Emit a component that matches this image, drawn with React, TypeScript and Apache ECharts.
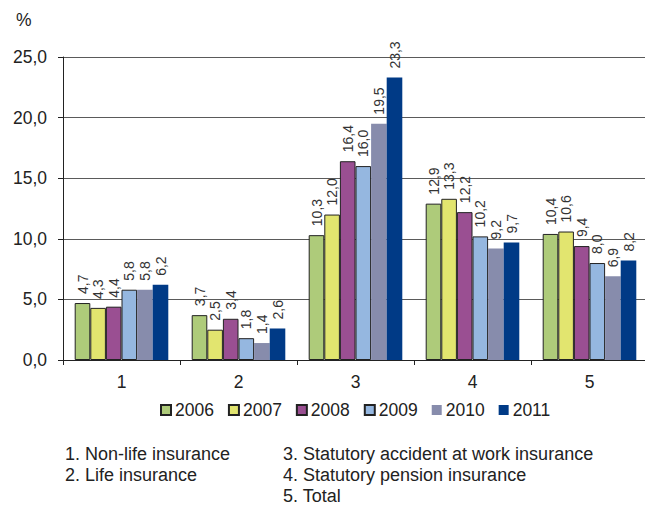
import React, { useEffect, useRef } from "react";
import * as echarts from "echarts";

const categories = ["1", "2", "3", "4", "5"];
const years = ["2006", "2007", "2008", "2009", "2010", "2011"];
const v2006 = [4.7, 3.7, 10.3, 12.9, 10.4];
const v2007 = [4.3, 2.5, 12.0, 13.3, 10.6];
const v2008 = [4.4, 3.4, 16.4, 12.2, 9.4];
const v2009 = [5.8, 1.8, 16.0, 10.2, 8.0];
const v2010 = [5.8, 1.4, 19.5, 9.2, 6.9];
const v2011 = [6.2, 2.6, 23.3, 9.7, 8.2];
const seriesValues = [v2006, v2007, v2008, v2009, v2010, v2011];
const colors = ["#AECB7A", "#E2E56F", "#9A4F92", "#95B7E0", "#878CAC", "#003A86"];
const bordered = [true, true, true, true, false, false];
const notesLeft = ["1. Non-life insurance", "2. Life insurance"];
const notesRight = [
  "3. Statutory accident at work insurance",
  "4. Statutory pension insurance",
  "5. Total",
];

const FONT = "'Liberation Sans', Arial, sans-serif";
const fmt = (v: number) => v.toFixed(1).replace(".", ",");

export default function App() {
  const ref = useRef<HTMLDivElement>(null);
  useEffect(() => {
    if (!ref.current) return;
    const chart = echarts.init(ref.current, null, { renderer: "svg" });
    const graphics: any[] = [
      {
        type: "text",
        left: 16,
        top: 11,
        style: { text: "%", font: `17.5px ${FONT}`, fill: "#222" },
      },
    ];
    notesLeft.forEach((t, i) =>
      graphics.push({
        type: "text",
        left: 65,
        top: 445 + i * 21,
        style: { text: t, font: `18px ${FONT}`, fill: "#222" },
      })
    );
    notesRight.forEach((t, i) =>
      graphics.push({
        type: "text",
        left: 283,
        top: 445 + i * 21,
        style: { text: t, font: `18px ${FONT}`, fill: "#222" },
      })
    );
    chart.setOption({
      animation: false,
      textStyle: { fontFamily: FONT },
      grid: { left: 63, right: 12, top: 57, bottom: 145, containLabel: false },
      legend: {
        data: years,
        left: 155,
        top: 396,
        icon: "rect",
        itemWidth: 10,
        itemHeight: 10,
        itemGap: 14,
        textStyle: { fontSize: 17.5, color: "#222", fontFamily: FONT, padding: [0, 0, 0, -1] },
      },
      xAxis: {
        type: "category",
        data: categories,
        axisLine: { lineStyle: { color: "#222", width: 1 } },
        axisTick: { show: true, length: 5, lineStyle: { color: "#222" } },
        axisLabel: { fontSize: 17.5, color: "#222", margin: 13, fontFamily: FONT },
      },
      yAxis: {
        type: "value",
        min: 0,
        max: 25,
        interval: 5,
        axisLine: { show: true, lineStyle: { color: "#222", width: 1 } },
        axisTick: { show: true, length: 5, lineStyle: { color: "#222" } },
        axisLabel: {
          fontSize: 17.5,
          color: "#222",
          margin: 16,
          fontFamily: FONT,
          formatter: (v: number) => fmt(v),
        },
        splitLine: { show: true, lineStyle: { color: "#5a5a5a", width: 1 } },
      },
      series: years.map((y, i) => ({
        name: y,
        type: "bar",
        data: seriesValues[i],
        barGap: "0%",
        barCategoryGap: "20%",
        itemStyle: {
          color: colors[i],
          borderColor: bordered[i] ? "#222" : colors[i],
          borderWidth: bordered[i] ? 1 : 0,
        },
        label: {
          show: true,
          position: "top",
          rotate: 90,
          align: "left",
          verticalAlign: "middle",
          distance: 9,
          fontSize: 14,
          color: "#333",
          fontFamily: FONT,
          formatter: (p: any) => fmt(p.value),
        },
      })),
      graphic: graphics,
    });
    return () => chart.dispose();
  }, []);
  return (
    <div
      ref={ref}
      style={{ position: "absolute", left: 0, top: 0, width: 660, height: 505, background: "#fff" }}
    />
  );
}
